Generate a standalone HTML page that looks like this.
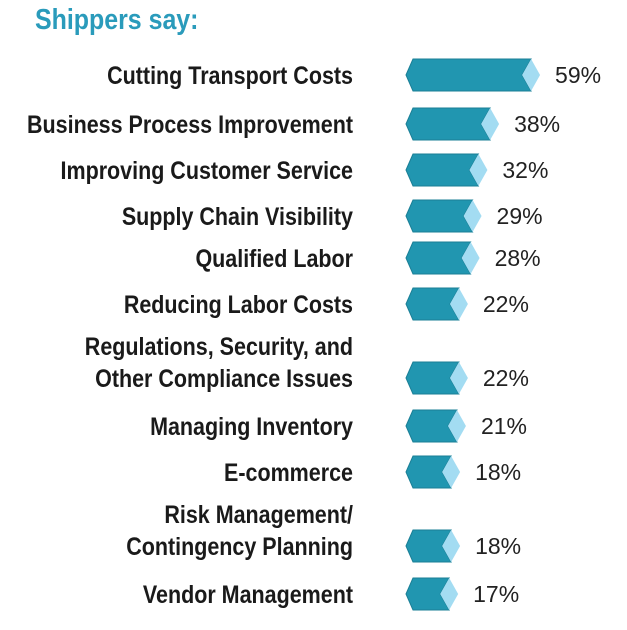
<!DOCTYPE html>
<html><head><meta charset="utf-8"><style>
html,body{margin:0;padding:0;background:#fff;width:627px;height:630px;overflow:hidden}
</style></head><body>
<svg id="chart" width="627" height="630" xmlns="http://www.w3.org/2000/svg">
<text transform="translate(35,29) scale(0.86,1)" font-family="Liberation Sans, sans-serif" font-weight="bold" font-size="29" fill="#2a9bbb">Shippers say:</text>
<g id="rows"></g>
</svg>
<script>
const categories = [["Cutting Transport Costs"],["Business Process Improvement"],["Improving Customer Service"],["Supply Chain Visibility"],["Qualified Labor"],["Reducing Labor Costs"],["Regulations, Security, and","Other Compliance Issues"],["Managing Inventory"],["E-commerce"],["Risk Management/","Contingency Planning"],["Vendor Management"]];
const values = [59,38,32,29,28,22,22,21,18,18,17];
const rowCenters = [75,124,170,216,258,304,378,426,472,546,594];
const NS="http://www.w3.org/2000/svg";
const g=document.getElementById('rows');
function xTip(v){return 425+1.95*v;}
function mk(t,a){const e=document.createElementNS(NS,t);for(const k in a)e.setAttribute(k,a[k]);return e;}
values.forEach((v,i)=>{
  const cy=rowCenters[i], T=xTip(v), h=16;
  const dark=mk('polygon',{points:`406,${cy} 413,${cy-h} ${T-9},${cy-h} ${T-18},${cy} ${T-9},${cy+h} 413,${cy+h}`,fill:'#2196b0',stroke:'#1a7f96','stroke-width':1});
  
  
  g.appendChild(dark);
  const tip=mk('polygon',{points:`${T-9},${cy-h} ${T},${cy} ${T-9},${cy+h} ${T-18},${cy}`,fill:'#a3dcf2'});
  
  
  g.appendChild(tip);
  const lab=mk('text',{x:T+15,y:cy+8,'font-family':'Liberation Sans, sans-serif','font-size':23,fill:'#222'});
  lab.textContent=v+'%';
  
  
  g.appendChild(lab);
  const lines=categories[i];
  lines.forEach((s,j)=>{
    const y=cy+9-(lines.length-1-j)*32;
    const t=mk('text',{transform:`translate(353,${y}) scale(0.86,1)`,'text-anchor':'end','font-family':'Liberation Sans, sans-serif','font-weight':'bold','font-size':25,fill:'#1a1a1a'});
    t.textContent=s;
    
    
    g.appendChild(t);
  });
});
</script>
</body></html>
